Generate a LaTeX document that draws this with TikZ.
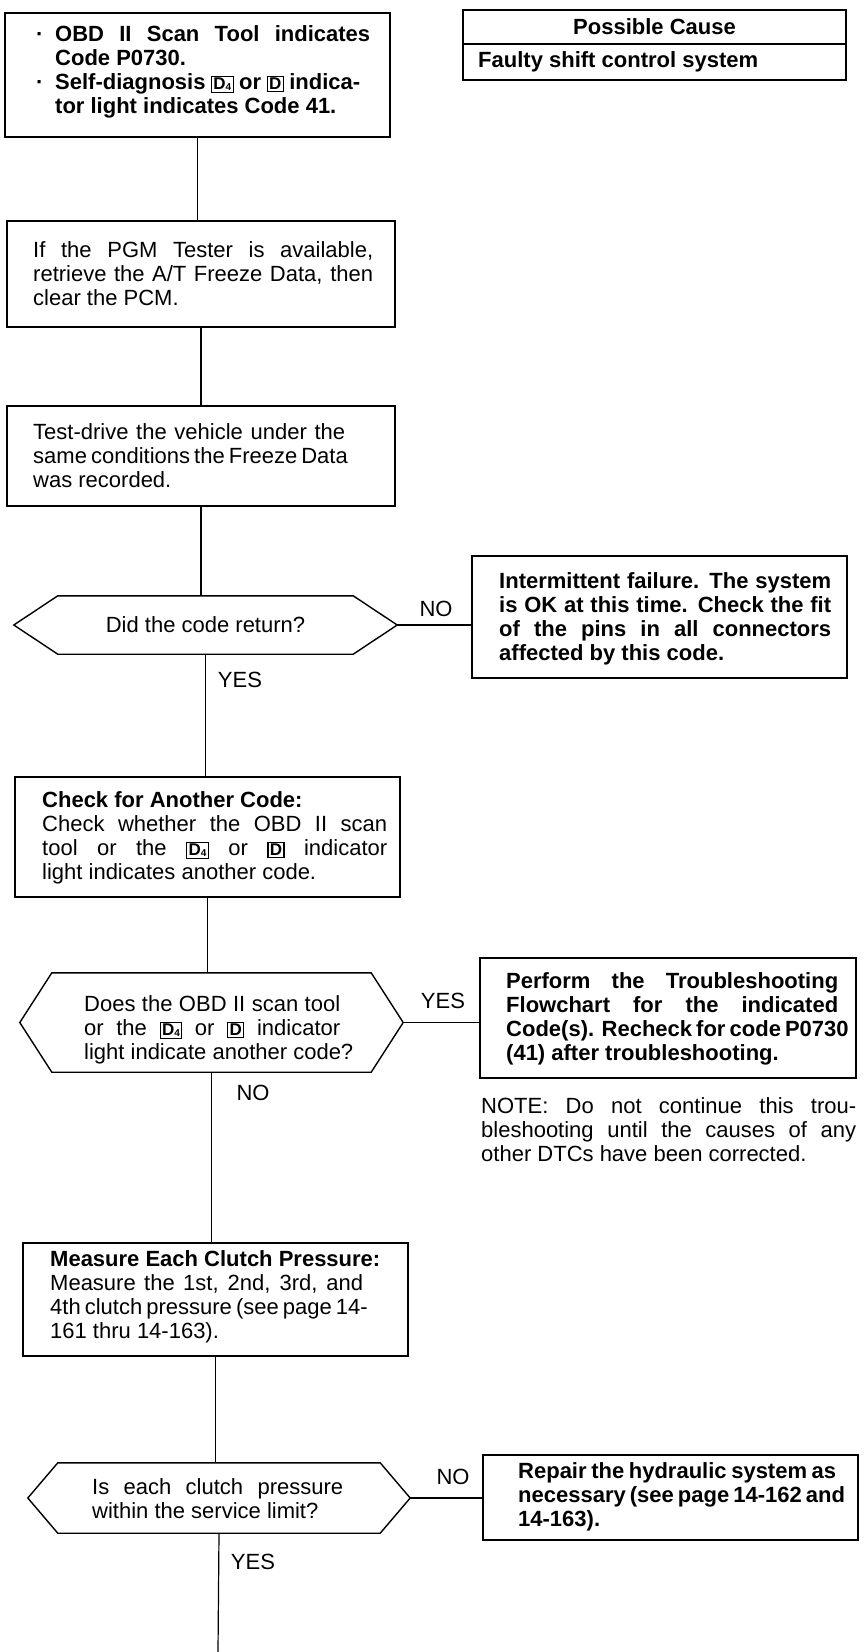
\documentclass[tikz,border=0pt]{standalone}
\usepackage{fontspec}
\setmainfont{Liberation Sans}
\usetikzlibrary{calc}
\newcommand{\dfour}{{\setlength{\fboxsep}{1.3pt}\setlength{\fboxrule}{1.2pt}\fbox{\fontsize{17}{17}\selectfont\bfseries D\raisebox{-1pt}{\fontsize{10}{10}\selectfont 4}}}}
\newcommand{\dbox}{{\setlength{\fboxsep}{1.3pt}\setlength{\fboxrule}{1.2pt}\fbox{\fontsize{17}{17}\selectfont\bfseries D}}}
\newcommand{\jl}[2]{\makebox[#1][s]{#2}}
\newcommand{\hexa}[2]{\draw[hexline] (#1.west) -- ([xshift=#2]#1.north west) -- ([xshift=-#2]#1.north east) -- (#1.east) -- ([xshift=-#2]#1.south east) -- ([xshift=#2]#1.south west) -- cycle;}
\begin{document}
\begin{tikzpicture}[x=1pt,y=-1pt,
  every node/.style={font=\fontsize{22}{24}\selectfont, inner sep=0pt},
  bt/.style={font=\fontsize{22}{24}\selectfont\bfseries},
  rbox/.style={draw, line width=1.4pt},
  txt/.style={align=left, anchor=west},
  hexline/.style={line width=1.4pt, line join=miter},
  conn/.style={line width=1.2pt}]
\useasboundingbox (0,0) rectangle (865,1652);
\fill[white] (0,0) rectangle (865,1652);

% possible cause table
\node[rbox, bt, minimum width=383pt, minimum height=34pt] (pc) at (654.5,27) {Possible Cause};
\node[rbox, minimum width=383pt, minimum height=36pt] (fs) at (654.5,62) {};
\node[txt, bt] (fst) at (478,62) {Faulty shift control system};

% box 1
\node[rbox, minimum width=385pt, minimum height=124pt] (b1) at (197.5,75) {};
\node[bt, anchor=west] (b1t) at (36,73)
  {\begin{tabular}{@{}l@{}l@{}}
   \makebox[19pt][l]{·} & \jl{315pt}{OBD II Scan Tool indicates}\\
   & Code P0730.\\
   \makebox[19pt][l]{·} & \jl{305pt}{Self-diagnosis \dfour{} or \dbox{} indica-}\\
   & tor light indicates Code 41.
   \end{tabular}};

% box 2
\node[rbox, minimum width=388pt, minimum height=106pt] (b2) at (201,274) {};
\node[txt] (b2t) at (33,274)
  {\jl{340pt}{If the PGM Tester is available,}\\
   \jl{340pt}{retrieve the A/T Freeze Data, then}\\
   clear the PCM.};

% box 3
\node[rbox, minimum width=388pt, minimum height=100pt] (b3) at (201,456) {};
\node[txt] (b3t) at (33,456)
  {\jl{312pt}{Test-drive the vehicle under the}\\
   \jl{312pt}{same conditions the Freeze Data}\\
   was recorded.};

% decision 1
\node[minimum width=383pt, minimum height=58pt] (d1) at (205.5,625) {Did the code return?};
\hexa{d1}{44pt}

\node[rbox, minimum width=375pt, minimum height=122pt] (n1) at (659.5,617) {};
\node[txt, bt] (n1t) at (499,619)
  {\jl{332pt}{Intermittent failure. The system}\\
   \jl{332pt}{is OK at this time. Check the fit}\\
   \jl{332pt}{of the pins in all connectors}\\
   affected by this code.};
\node (no1) at (436,609) {NO};
\node (yes1) at (240,680) {YES};

% box 4
\node[rbox, minimum width=385pt, minimum height=120pt] (b4) at (207.5,837) {};
\node[txt] (b4t) at (42,838)
  {\textbf{Check for Another Code:}\\
   \jl{345pt}{Check whether the OBD II scan}\\
   \jl{345pt}{tool or the \dfour{} or \dbox{} indicator}\\
   light indicates another code.};

% decision 2
\node[minimum width=383pt, minimum height=99pt] (d2) at (211.5,1022.5) {};
\hexa{d2}{32pt}
\node[txt] (d2t) at (84,1030)
  {\jl{256pt}{Does the OBD II scan tool}\\
   \jl{256pt}{or the \dfour{} or \dbox{} indicator}\\
   light indicate another code?};

\node[rbox, minimum width=376pt, minimum height=120pt] (y2) at (668,1018) {};
\node[txt, bt] (y2t) at (506,1019)
  {\jl{332pt}{Perform the Troubleshooting}\\
   \jl{332pt}{Flowchart for the indicated}\\
   \jl{332pt}{Code(s). Recheck for code P0730}\\
   (41) after troubleshooting.};
\node (yes2) at (443,1001) {YES};
\node (no2) at (253,1093) {NO};

\node[txt] (note) at (481,1130)
  {\jl{375pt}{NOTE: Do not continue this trou-}\\
   \jl{375pt}{bleshooting until the causes of any}\\
   other DTCs have been corrected.};

% box 5
\node[rbox, minimum width=385pt, minimum height=113pt] (b5) at (215.5,1299.5) {};
\node[txt] (b5t) at (50,1297)
  {\textbf{Measure Each Clutch Pressure:}\\
   \jl{313pt}{Measure the 1st, 2nd, 3rd, and}\\
   \jl{313pt}{4th clutch pressure (see page 14-}\\
   161 thru 14-163).};

% decision 3
\node[minimum width=382pt, minimum height=70pt] (d3) at (219,1498) {};
\hexa{d3}{30pt}
\node[txt] (d3t) at (92,1499)
  {\jl{251pt}{Is each clutch pressure}\\
   within the service limit?};

\node[rbox, minimum width=375pt, minimum height=85pt] (n3) at (670.5,1497.5) {};
\node[txt, bt] (n3t) at (518,1497)
  {\jl{318pt}{Repair the hydraulic system as}\\
   \jl{318pt}{necessary (see page 14-162 and}\\
   14-163).};
\node (no3) at (453,1477) {NO};
\node (yes3) at (253,1562) {YES};

\coordinate (end) at (218,1652);

% connectors
\draw[conn] (b1.south) -- (b1.south |- b2.north);
\draw[conn] (b2.south) -- (b2.south |- b3.north);
\draw[conn] (b3.south) -- (b3.south |- d1.north);
\draw[conn] (d1.south) -- (d1.south |- b4.north);
\draw[conn] (b4.south) -- (b4.south |- d2.north);
\draw[conn] (d2.south) -- (d2.south |- b5.north);
\draw[conn] (b5.south) -- (b5.south |- d3.north);
\draw[conn] (d3.south) -- (end);
\draw[conn] (d1.east) -- (d1.east -| n1.west);
\draw[conn] (d2.east) -- (d2.east -| y2.west);
\draw[conn] (d3.east) -- (d3.east -| n3.west);
\end{tikzpicture}
\end{document}
